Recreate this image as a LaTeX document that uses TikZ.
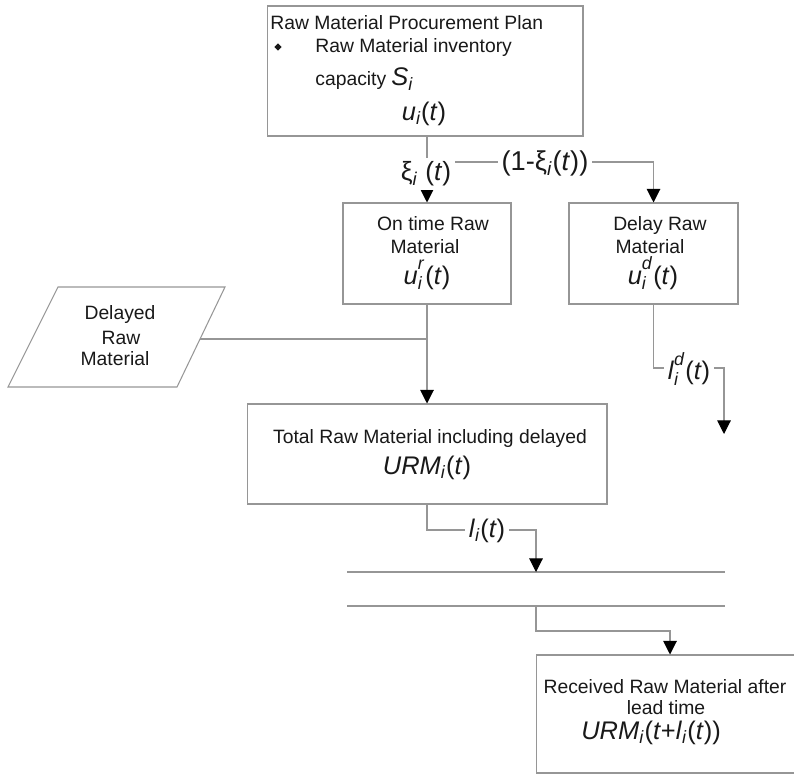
\documentclass[tikz,border=0pt]{standalone}
\usepackage{fontspec}
\setmainfont{Liberation Sans}
\usetikzlibrary{arrows.meta,shapes.geometric}

\definecolor{linegray}{RGB}{150,150,150}
\definecolor{inkdark}{RGB}{25,25,25}

% type sizes
\newcommand{\bodysz}{\fontsize{11}{13.3}\selectfont}
\newcommand{\mathsz}{\fontsize{14.5}{16}\selectfont}
\newcommand{\tagsz}{\fontsize{15}{17}\selectfont}

% italic symbol helpers
\newcommand{\iv}[1]{\textit{#1}}
\newcommand{\lo}[1]{\textsubscript{\textit{#1}}}
\newcommand{\hilo}[2]{%
  \setbox0=\hbox{\raisebox{0.2em}{\textsuperscript{\textit{#1}}}}%
  \setbox2=\hbox{\raisebox{-0.05em}{\textsubscript{\textit{#2}}}}%
  \ifdim\wd0>\wd2 \rlap{\copy2}\copy0\else\rlap{\copy0}\copy2\fi}

\begin{document}
\begin{tikzpicture}[x=0.02cm,y=-0.02cm,
  box/.style={draw=linegray,line width=0.6pt,inner sep=0pt,fill=white},
  txt/.style={inner sep=0pt,anchor=base,text=inkdark,font=\bodysz},
  mtxt/.style={txt,font=\mathsz},
  conn/.style={draw=linegray,line width=0.6pt},
  arr/.style={conn,-{Triangle[length=7.8pt,width=7.8pt,color=black,fill=black]}},
  tag/.style={fill=white,inner sep=2pt,text=inkdark}]

\useasboundingbox (0,0) rectangle (794,777);
\clip (0,0) rectangle (794,777);

% ---------- boxes ----------
\node[box,minimum width=6.32cm,minimum height=2.6cm] (plan) at (425,71) {};
\node[box,minimum width=3.36cm,minimum height=2.02cm] (ontime) at (427,253.5) {};
\node[box,minimum width=3.38cm,minimum height=2.02cm] (delay) at (653.5,253.5) {};
\node[box,minimum width=7.2cm,minimum height=2cm] (total) at (427,454) {};
\node[box,minimum width=5.2cm,minimum height=2.36cm] (recv) at (666,714) {};

% delayed input (parallelogram)
\draw[conn] (58,287) -- (225,287) -- (177,387) -- (8,387) -- cycle;
\coordinate (dout) at (200,339);

% ---------- texts ----------
\node[txt,anchor=base west] (planT) at (270,30) {Raw Material Procurement Plan};
\node[diamond,fill=inkdark,inner sep=0pt,minimum size=0.15cm] (bul) at (278,47) {};
\node[txt,anchor=base west] (planA) at (315,53) {Raw Material inventory};
\node[txt,anchor=base west] (planB) at (315,86) {capacity};
\node[txt,anchor=base west,font=\mathsz] (planS) at (391,86) {\iv{S}\lo{i}};
\node[mtxt] (planU) at (424,120) {\iv{u}\lo{i}(\iv{t})};

\node[txt] (onA) at (433,230) {On time Raw};
\node[txt] (onB) at (425,253) {Material};
\node[mtxt] (onU) at (427,284) {\iv{u}\hilo{r}{i}(\iv{t})};

\node[txt] (dlA) at (660,230) {Delay Raw};
\node[txt] (dlB) at (650,253) {Material};
\node[mtxt] (dlU) at (653,284) {\iv{u}\hilo{d}{i}(\iv{t})};

\node[txt] (pgA) at (120,319) {Delayed};
\node[txt] (pgB) at (121,344) {Raw};
\node[txt] (pgC) at (115,365) {Material};

\node[txt] (ttA) at (430,443) {Total Raw Material including delayed};
\node[mtxt] (ttU) at (427,474) {\iv{URM}\lo{i}(\iv{t})};

\node[txt] (rcA) at (665,693) {Received Raw Material after};
\node[txt] (rcB) at (666,714) {lead time};
\node[mtxt] (rcU) at (651,739) {\iv{URM}\lo{i}(\iv{t}+\iv{l}\lo{i}(\iv{t}))};

% ---------- store lines ----------
\coordinate (sA) at (347,572);
\coordinate (sB) at (725,572);
\coordinate (sC) at (347,606);
\coordinate (sD) at (725,606);
\draw[conn] (sA) -- (sB);
\draw[conn] (sC) -- (sD);
\coordinate (sIn) at (536,572);
\coordinate (sOut) at (536,606);

% ---------- connectors ----------
\coordinate (split) at (427,162);
\draw[arr] (ontime.north |- plan.south) -- (ontime.north);
\draw[arr] (split) -| (delay.north);
\draw[arr] (ontime.south) -- (total.north);
\draw[conn] (dout) -- (ontime.south |- dout);

\coordinate (dBend) at (724,368);
\coordinate (dEnd) at (724,434);
\draw[arr] (delay.south) |- (dBend) -- (dEnd);

\coordinate (tBend) at (536,530);
\draw[arr] (total.south) |- (tBend) -- (sIn);

\coordinate (rBend) at (670,631);
\draw[arr] (sOut) |- (rBend) -- (rBend |- recv.north);

% ---------- connector labels ----------
\node[tag,font=\tagsz] (xiL) at (426,174) {ξ\lo{i} (\iv{t})};
\node[tag,font=\fontsize{15.5}{17}\selectfont] (nxiL) at (545,163) {(1-ξ\lo{i}(\iv{t}))};
\node[tag,font=\mathsz] (ldL) at (689,369) {\iv{l}\hilo{d}{i}(\iv{t})};
\node[tag,font=\mathsz] (lL) at (487,531) {\iv{l}\lo{i}(\iv{t})};

\end{tikzpicture}
\end{document}
